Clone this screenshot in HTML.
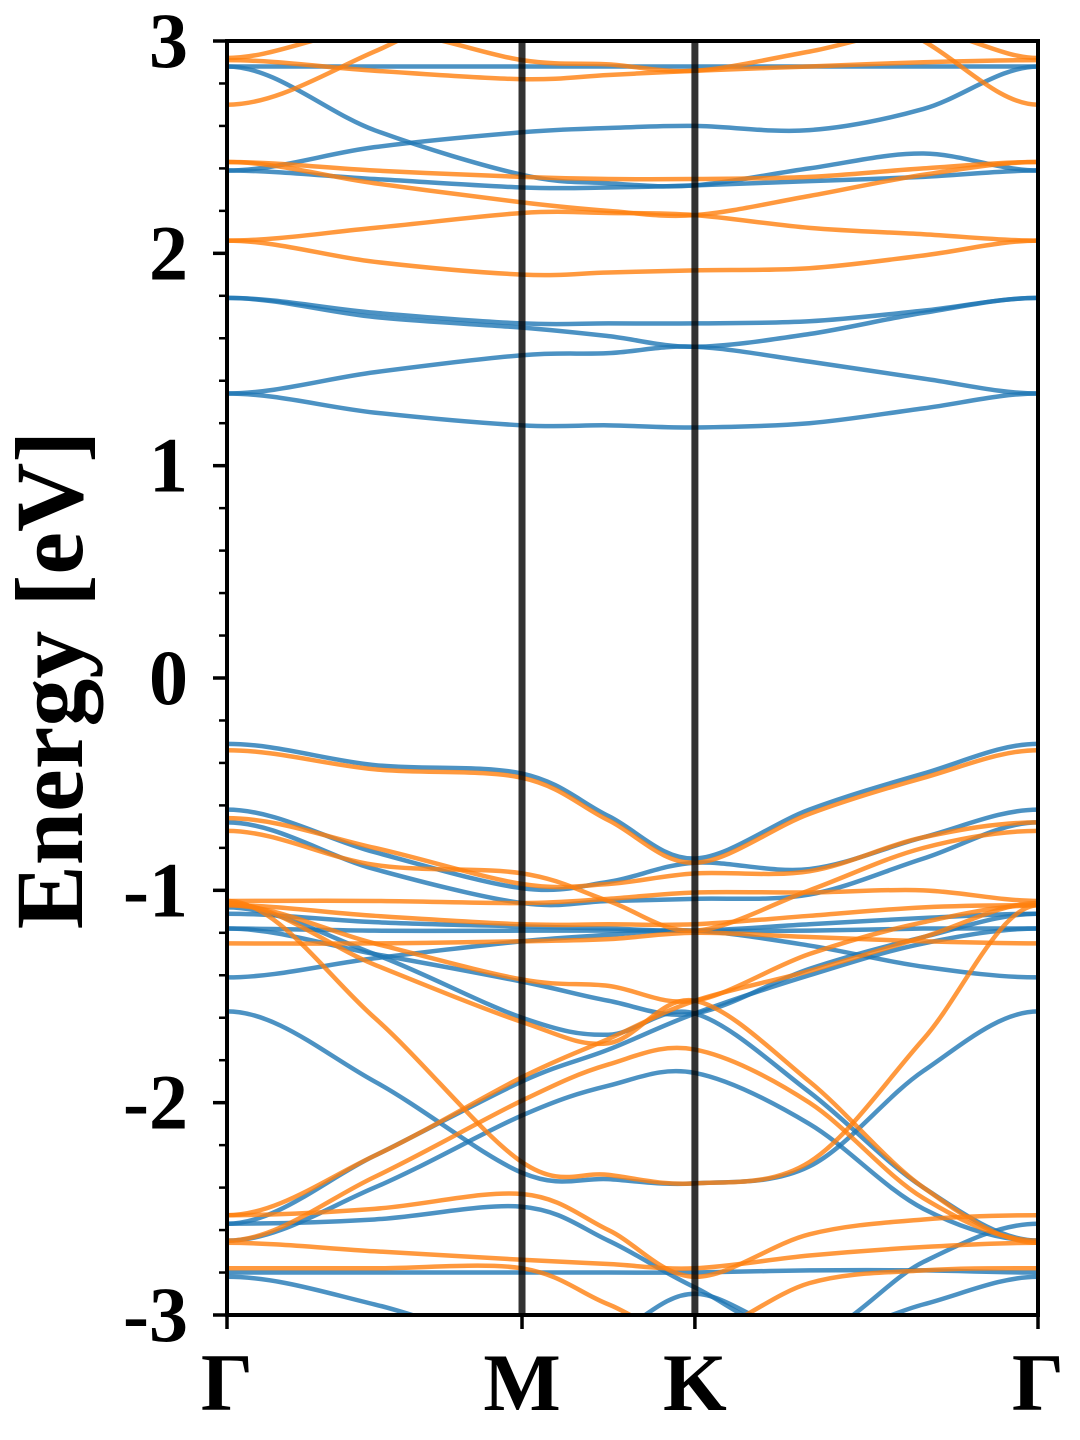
<!DOCTYPE html>
<html><head><meta charset="utf-8"><style>
html,body{margin:0;padding:0;background:#fff;}
svg{display:block;}
text{font-family:"Liberation Serif",serif;font-weight:bold;fill:#000;}
</style></head><body>
<svg id="chart" width="1080" height="1440" viewBox="0 0 1080 1440">
<defs><clipPath id="pa"><rect x="227" y="41" width="811" height="1274"/></clipPath></defs>
<g id="bands" clip-path="url(#pa)"></g>
<g id="axes"></g>
</svg>
<script>
const kLabels = ["Γ","M","K","Γ"];
const kSym = [0, 1, 1.586, 2.749];
const kKnots = [0, 0.5, 1, 1.293, 1.586, 1.974, 2.361, 2.749];
const yTicks = [-3,-2,-1,0,1,2,3];
const blueBands = [
 [1.34,1.25,1.19,1.19,1.18,1.20,1.27,1.34],
 [1.34,1.44,1.52,1.53,1.56,1.49,1.41,1.34],
 [1.79,1.72,1.67,1.67,1.67,1.68,1.73,1.79],
 [1.79,1.70,1.65,1.61,1.56,1.62,1.72,1.79],
 [2.39,2.35,2.31,2.31,2.32,2.34,2.36,2.39],
 [2.39,2.50,2.57,2.59,2.60,2.58,2.68,2.88],
 [2.88,2.88,2.88,2.88,2.88,2.88,2.88,2.88],
 [2.88,2.58,2.37,2.33,2.32,2.40,2.47,2.39],
 [-0.31,-0.41,-0.45,-0.65,-0.85,-0.62,-0.45,-0.31],
 [-0.62,-0.82,-0.99,-0.96,-0.87,-0.90,-0.75,-0.62],
 [-0.68,-0.90,-1.06,-1.05,-1.04,-1.02,-0.85,-0.68],
 [-1.11,-1.15,-1.17,-1.18,-1.19,-1.16,-1.13,-1.11],
 [-1.18,-1.19,-1.19,-1.19,-1.19,-1.19,-1.18,-1.18],
 [-1.41,-1.32,-1.24,-1.21,-1.19,-1.26,-1.36,-1.41],
 [-1.18,-1.30,-1.43,-1.52,-1.58,-1.37,-1.22,-1.11],
 [-1.57,-1.90,-2.33,-2.36,-2.38,-2.30,-1.85,-1.57],
 [-1.08,-1.30,-1.60,-1.68,-1.58,-1.95,-2.40,-2.65],
 [-2.57,-2.25,-1.90,-1.75,-1.58,-1.40,-1.25,-1.18],
 [-2.57,-2.55,-2.49,-2.65,-2.87,-3.10,-2.75,-2.57],
 [-2.65,-2.40,-2.06,-1.92,-1.86,-2.10,-2.50,-2.65],
 [-2.80,-2.80,-2.80,-2.80,-2.80,-2.79,-2.79,-2.80],
 [-2.82,-2.95,-3.15,-3.10,-2.90,-3.10,-2.95,-2.82]
];
const orangeBands = [
 [2.06,1.96,1.90,1.91,1.92,1.93,1.99,2.06],
 [2.06,2.12,2.19,2.19,2.18,2.12,2.09,2.06],
 [2.43,2.33,2.24,2.20,2.18,2.27,2.37,2.43],
 [2.43,2.39,2.36,2.35,2.35,2.36,2.40,2.43],
 [2.70,2.95,3.30,3.30,3.30,3.30,3.00,2.70],
 [2.91,2.86,2.82,2.84,2.86,2.88,2.90,2.91],
 [2.92,3.05,2.91,2.89,2.86,2.95,3.05,2.92],
 [-0.34,-0.43,-0.47,-0.67,-0.87,-0.64,-0.47,-0.34],
 [-0.66,-0.80,-0.97,-0.97,-0.92,-0.91,-0.75,-0.68],
 [-0.72,-0.88,-0.92,-1.05,-1.19,-1.00,-0.80,-0.72],
 [-1.05,-1.05,-1.06,-1.04,-1.01,-1.01,-1.00,-1.05],
 [-1.07,-1.12,-1.16,-1.16,-1.16,-1.12,-1.08,-1.07],
 [-1.25,-1.25,-1.24,-1.23,-1.20,-1.22,-1.24,-1.25],
 [-1.07,-1.25,-1.42,-1.45,-1.52,-1.30,-1.15,-1.07],
 [-1.05,-1.60,-2.28,-2.34,-2.38,-2.28,-1.70,-1.07],
 [-1.06,-1.35,-1.62,-1.72,-1.52,-1.90,-2.40,-2.66],
 [-2.53,-2.25,-1.88,-1.70,-1.52,-1.38,-1.22,-1.06],
 [-2.53,-2.50,-2.43,-2.60,-2.82,-2.62,-2.55,-2.53],
 [-2.65,-2.35,-1.99,-1.82,-1.75,-2.00,-2.45,-2.65],
 [-2.66,-2.70,-2.74,-2.76,-2.78,-2.72,-2.68,-2.66],
 [-2.78,-2.78,-2.78,-2.95,-3.10,-2.85,-2.79,-2.78]
];
const NS="http://www.w3.org/2000/svg";
const X0=227,X1=1038,Y0=41,Y1=1315;
const xs=k=>X0+(k/kSym[3])*(X1-X0);
const ys=e=>Y1-(e+3)/6*(Y1-Y0);
function mk(tag,attrs,parent){const el=document.createElementNS(NS,tag);for(const a in attrs)el.setAttribute(a,attrs[a]);parent.appendChild(el);return el;}
function pathFor(vals){
 const p=vals.map((v,i)=>[xs(kKnots[i]),ys(v)]);
 let d=`M${p[0][0]},${p[0][1]}`;
 for(let i=0;i<p.length-1;i++){
  const p0=p[i-1]||[2*p[0][0]-p[1][0],p[1][1]];
  const p1=p[i],p2=p[i+1];
  const p3=p[i+2]||[2*p[p.length-1][0]-p[p.length-2][0],p[p.length-2][1]];
  const c1=[p1[0]+(p2[0]-p0[0])/6,p1[1]+(p2[1]-p0[1])/6];
  const c2=[p2[0]-(p3[0]-p1[0])/6,p2[1]-(p3[1]-p1[1])/6];
  d+=`C${c1[0]},${c1[1]} ${c2[0]},${c2[1]} ${p2[0]},${p2[1]}`;
 }
 return d;
}
const bg=document.getElementById('bands');
blueBands.forEach((b,i)=>{
 const el=mk('path',{d:pathFor(b),fill:'none',stroke:'#1f77b4','stroke-opacity':0.8,'stroke-width':4.5},bg);
 
 
});
orangeBands.forEach((b,i)=>{
 const el=mk('path',{d:pathFor(b),fill:'none',stroke:'#ff7f0e','stroke-opacity':0.8,'stroke-width':4.5},bg);
 
 
});
const ax=document.getElementById('axes');
[kSym[1],kSym[2]].forEach((k,i)=>{
 const el=mk('line',{x1:xs(k),x2:xs(k),y1:Y0,y2:Y1,stroke:'#000','stroke-opacity':0.8,'stroke-width':7},ax);
 
 
});
const fr=mk('rect',{x:X0,y:Y0,width:X1-X0,height:Y1-Y0,fill:'none',stroke:'#000','stroke-width':4},ax);


for(let i=0;i<=30;i++){
 const e=-3+i*0.2;const major=(i%5===0);
 const t=mk('line',{x1:X0,x2:X0-(major?14:8),y1:ys(e),y2:ys(e),stroke:'#000','stroke-width':major?3.5:2.5},ax);
 
 
}
yTicks.forEach(v=>{
 const t=mk('text',{x:188,y:ys(v)+26,'text-anchor':'end','font-size':78},ax);
 t.textContent=v<0?'-'+Math.abs(v):String(v);
 
 
});
kSym.forEach((k,i)=>{
 const t=mk('line',{x1:xs(k),x2:xs(k),y1:Y1,y2:Y1+14,stroke:'#000','stroke-width':3.5},ax);
 
 
 const l=mk('text',{x:xs(k),y:1410,'text-anchor':'middle','font-size':82},ax);
 l.textContent=kLabels[i];
 
 
});
const yt=mk('text',{x:0,y:0,'text-anchor':'middle','font-size':96,transform:'translate(82,680) rotate(-90)'},ax);
yt.textContent='Energy [eV]';


</script>
</body></html>
